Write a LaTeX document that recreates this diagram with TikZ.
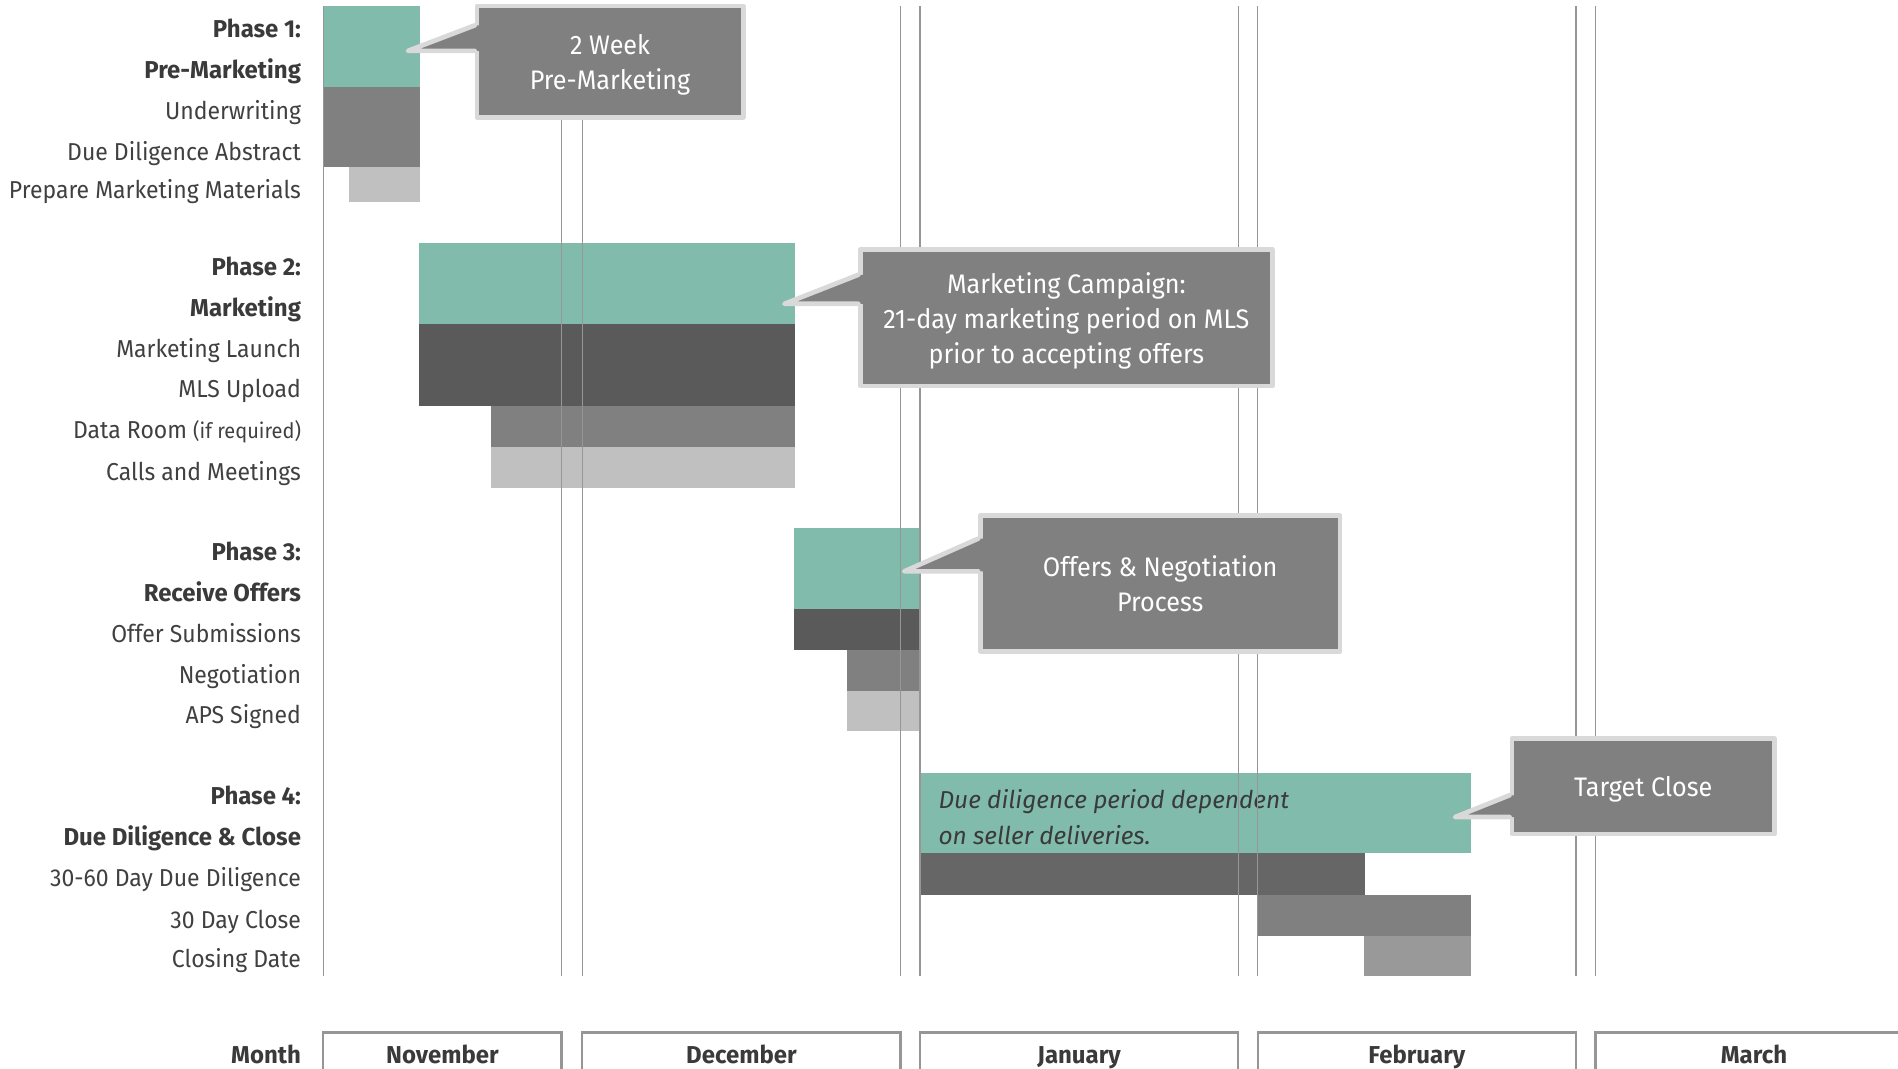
\documentclass[tikz,border=0pt]{standalone}
\usepackage{fontspec}
\setmainfont{Fira Sans}[UprightFeatures={FakeStretch=0.94},
  BoldFeatures={FakeStretch=0.98}, ItalicFeatures={FakeStretch=1.0}]
\usepackage{xcolor}
\definecolor{tealbar}{RGB}{128,187,172}
\definecolor{darkbar}{RGB}{90,90,90}
\definecolor{midbar}{RGB}{128,128,128}
\definecolor{lightbar}{RGB}{192,192,192}
\definecolor{ddbar}{RGB}{102,102,102}
\definecolor{closebar}{RGB}{153,153,153}
\definecolor{gridgray}{RGB}{150,150,150}
\definecolor{callfill}{RGB}{128,128,128}
\definecolor{callrim}{RGB}{217,217,217}
\definecolor{labelgray}{RGB}{64,64,64}
\definecolor{phasegray}{RGB}{58,58,58}

\begin{document}
\begin{tikzpicture}[x=0.02cm, y=-0.02cm,
  lbl/.style={anchor=east, text=labelgray, inner sep=0pt, text height=1.65ex, text depth=0pt,
  font=\fontsize{11.5}{14}\selectfont},
  phase/.style={anchor=east, text=phasegray, inner sep=0pt, text height=1.65ex, text depth=0pt,
  font=\fontsize{11.5}{14}\selectfont\bfseries},
  month/.style={text=phasegray, inner sep=0pt, text height=1.65ex, text depth=0pt,
  font=\fontsize{11.5}{14}\selectfont\bfseries},
  gridline/.style={draw=gridgray, line width=0.6pt},
  monthline/.style={draw=gridgray, line width=1.1pt},
  callout/.style={fill=callfill, draw=callrim, line width=2.2pt, line join=round,
  text=white, align=center, inner sep=0pt, text depth=-0.08cm,
  font=\fontsize{12.6}{16.5}\selectfont},
  rim/.style={draw=callrim, line width=2.2pt, line cap=round, line join=round}
]
\useasboundingbox (0,0) rectangle (1568,883);

% bars
\fill[tealbar] (267,5) rectangle (347,72);
\fill[midbar] (267,72) rectangle (347,138);
\fill[lightbar] (288,138) rectangle (347,167);

\fill[tealbar] (346,201) rectangle (657,268);
\fill[darkbar] (346,268) rectangle (657,335);
\fill[midbar] (406,335) rectangle (657,369);
\fill[lightbar] (406,369) rectangle (657,403);

\fill[tealbar] (656,436) rectangle (760,503);
\fill[darkbar] (656,503) rectangle (760,537);
\fill[midbar] (700,537) rectangle (760,571);
\fill[lightbar] (700,571) rectangle (760,604);

\fill[tealbar] (760,639) rectangle (1215,705);
\fill[ddbar] (760,705) rectangle (1128,739);
\fill[midbar] (1039,739) rectangle (1215,773);
\fill[closebar] (1127,773) rectangle (1215,806);

\node[anchor=west, align=left, inner sep=0pt, text=phasegray,
  font=\fontsize{11.5}{16.5}\selectfont\itshape] (ddnote) at (775,675)
  {Due diligence period dependent\\on seller deliveries.};

% grid
\draw[gridline] (267,5) -- (267,806);
\draw[gridline] (464,5) -- (464,806);
\draw[gridline] (481,5) -- (481,806);
\draw[gridline] (744,5) -- (744,806);
\draw[gridline] (760,5) -- (760,806);
\draw[gridline] (1023,5) -- (1023,806);
\draw[gridline] (1039,5) -- (1039,806);
\draw[gridline] (1302,5) -- (1302,806);
\draw[gridline] (1318,5) -- (1318,806);

% row labels
\node[phase] (p1) at (249,23) {Phase 1:};
\node[phase] (p1name) at (249,57) {Pre-Marketing};
\node[lbl] (uw) at (249,91) {Underwriting};
\node[lbl] (dda) at (249,125) {Due Diligence Abstract};
\node[lbl] (pmm) at (249,156) {Prepare Marketing Materials};

\node[phase] (p2) at (249,220) {Phase 2:};
\node[phase] (p2name) at (249,254) {Marketing};
\node[lbl] (launch) at (249,288) {Marketing Launch};
\node[lbl] (mls) at (249,321) {MLS Upload};
\node[lbl] (room) at (249,355) {Data Room {\fontsize{10}{12}\selectfont(if required)}};
\node[lbl] (calls) at (249,389) {Calls and Meetings};

\node[phase] (p3) at (249,455) {Phase 3:};
\node[phase] (p3name) at (249,489) {Receive Offers};
\node[lbl] (subm) at (249,523) {Offer Submissions};
\node[lbl] (nego) at (249,557) {Negotiation};
\node[lbl] (aps) at (249,590) {APS Signed};

\node[phase] (p4) at (249,657) {Phase 4:};
\node[phase] (p4name) at (249,691) {Due Diligence \& Close};
\node[lbl] (dd) at (249,725) {30-60 Day Due Diligence};
\node[lbl] (close) at (249,759) {30 Day Close};
\node[lbl] (cdate) at (249,792) {Closing Date};

% months
\node[phase] (mlabel) at (249,871) {Month};
\node[month] (nov) at (365.5,871) {November};
\node[month] (dec) at (612.5,871) {December};
\node[month] (jan) at (891.5,871) {January};
\node[month] (feb) at (1170.5,871) {February};
\node[month] (mar) at (1449,871) {March};
\draw[monthline] (267,890) |- (464,853) -- (464,890);
\draw[monthline] (481,890) |- (744,853) -- (744,890);
\draw[monthline] (760,890) |- (1023,853) -- (1023,890);
\draw[monthline] (1039,890) |- (1302,853) -- (1302,890);
\draw[monthline] (1318,890) |- (1580,853) -- (1580,890);

% callouts
\coordinate (tip1) at (337,42);
\coordinate (tip2) at (648,251);
\coordinate (tip3) at (747,472);
\coordinate (tip4) at (1202,675);

\node[callout, minimum width=4.4cm, minimum height=1.84cm] (cb1) at (504,51)
  {2 Week\\Pre-Marketing};
\fill[callfill] (tip1) -- (cb1.west |- 0,21) -- ++(5,0) |- (tip1) -- cycle;
\draw[rim] (cb1.west |- 0,21) -- (tip1) -- (cb1.west |- tip1);

\node[callout, minimum width=6.8cm, minimum height=2.26cm] (cb2) at (881,262.5)
  {Marketing Campaign:\\21-day marketing period on MLS\\prior to accepting offers};
\fill[callfill] (tip2) -- (cb2.west |- 0,227) -- ++(5,0) |- (tip2) -- cycle;
\draw[rim] (cb2.west |- 0,227) -- (tip2) -- (cb2.west |- tip2);

\node[callout, minimum width=5.94cm, minimum height=2.24cm] (cb3) at (958.5,482)
  {Offers \& Negotiation\\Process};
\fill[callfill] (tip3) -- (cb3.west |- 0,445) -- ++(5,0) |- (tip3) -- cycle;
\draw[rim] (cb3.west |- 0,445) -- (tip3) -- (cb3.west |- tip3);

\node[callout, minimum width=4.34cm, minimum height=1.58cm] (cb4) at (1357.5,649.5)
  {Target Close};
\fill[callfill] (tip4) -- (cb4.west |- 0,657) -- ++(5,0) |- (tip4) -- cycle;
\draw[rim] (cb4.west |- 0,657) -- (tip4) -- (cb4.west |- tip4);
\end{tikzpicture}
\end{document}
